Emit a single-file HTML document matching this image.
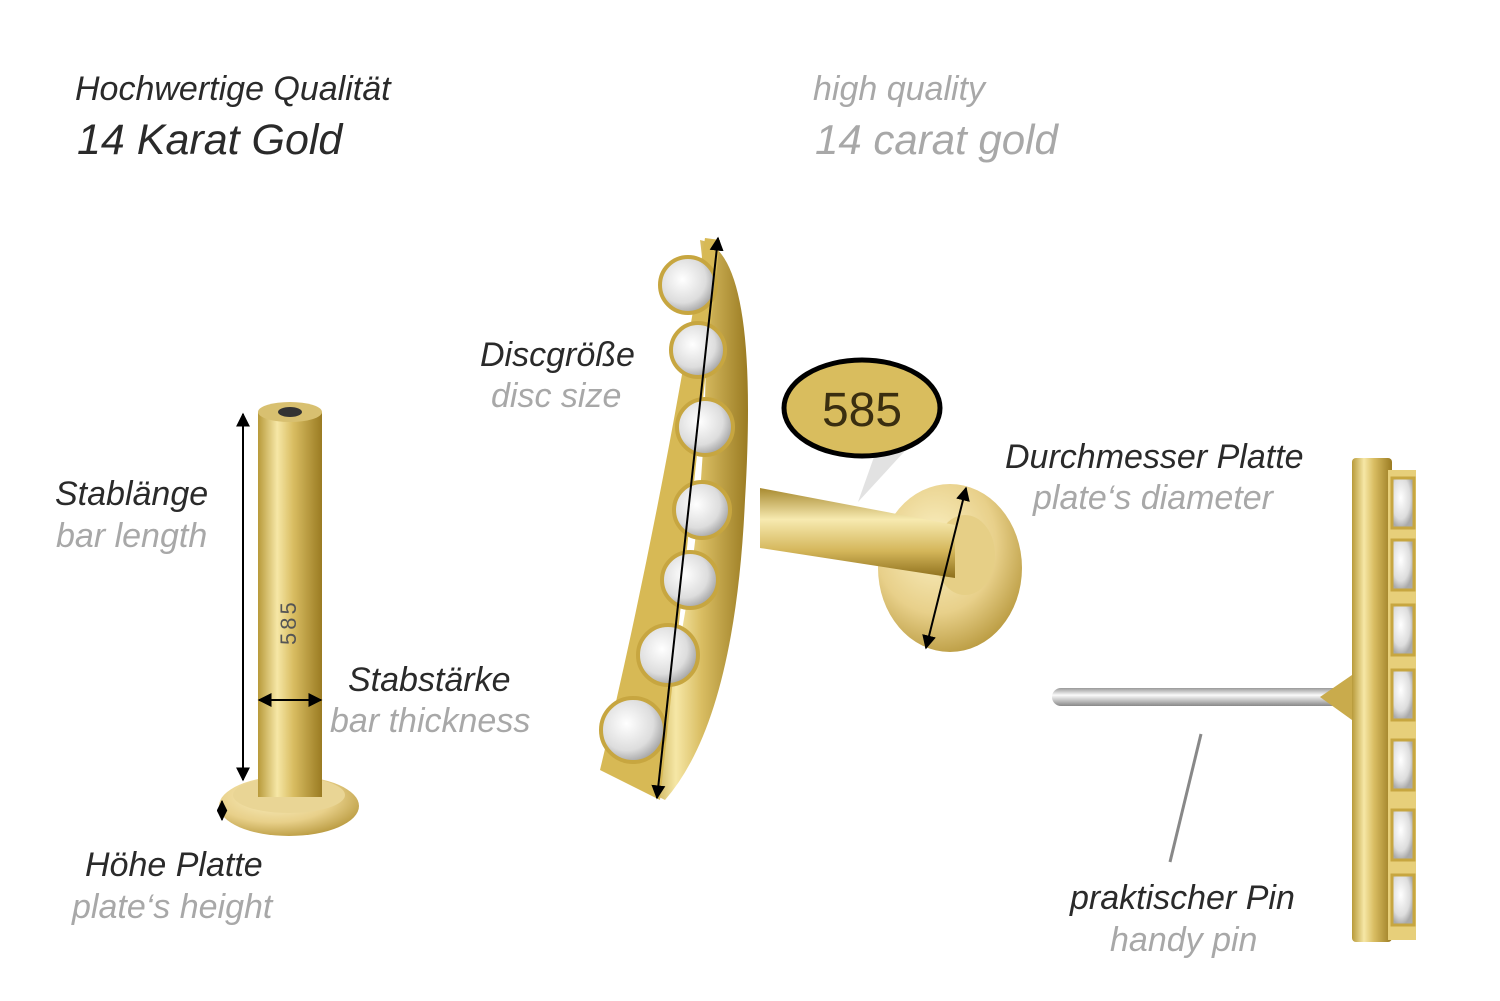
<!DOCTYPE html>
<html><head><meta charset="utf-8"><style>
html,body{margin:0;padding:0;background:#fff;}
#c{position:relative;width:1500px;height:1001px;overflow:hidden;font-family:"Liberation Sans",sans-serif;}
.t{position:absolute;white-space:nowrap;line-height:1;font-style:italic;}
.d{color:#2a2a2a;}.g{color:#a8a8a8;}
svg{position:absolute;left:0;top:0;font-style:normal;}
</style></head><body><div id="c">
<svg width="1500" height="1001" viewBox="0 0 1500 1001">
<defs>
<linearGradient id="gh" x1="0" x2="1" y1="0" y2="0">
<stop offset="0" stop-color="#b89a3a"/><stop offset="0.3" stop-color="#f6e7a6"/><stop offset="0.55" stop-color="#d9bd62"/><stop offset="1" stop-color="#9a7b22"/></linearGradient>
<linearGradient id="gv" x1="0" x2="0" y1="0" y2="1">
<stop offset="0" stop-color="#a88a30"/><stop offset="0.35" stop-color="#f7eab0"/><stop offset="0.7" stop-color="#d4b65a"/><stop offset="1" stop-color="#8d6f1c"/></linearGradient>
<linearGradient id="sv" x1="0" x2="0" y1="0" y2="1">
<stop offset="0" stop-color="#999"/><stop offset="0.4" stop-color="#fafafa"/><stop offset="1" stop-color="#888"/></linearGradient>
<radialGradient id="disc" cx="0.4" cy="0.35" r="0.7"><stop offset="0" stop-color="#fbf1c4"/><stop offset="0.6" stop-color="#e8d08a"/><stop offset="1" stop-color="#b8993e"/></radialGradient>
<radialGradient id="gem" cx="0.4" cy="0.4" r="0.6"><stop offset="0" stop-color="#fff"/><stop offset="0.7" stop-color="#ddd"/><stop offset="1" stop-color="#aaa"/></radialGradient>
<marker id="ah" viewBox="0 0 10 10" refX="9" refY="5" markerWidth="7" markerHeight="7" orient="auto-start-reverse"><path d="M0,0L10,5L0,10z" fill="#000"/></marker>
</defs>
<ellipse cx="289" cy="806" rx="70" ry="30" fill="url(#disc)"/>
<ellipse cx="289" cy="795" rx="56" ry="18" fill="#e9d595"/>
<rect x="258" y="412" width="64" height="385" fill="url(#gh)"/>
<ellipse cx="290" cy="412" rx="32" ry="10" fill="#d8c070"/>
<ellipse cx="290" cy="412" rx="12" ry="5" fill="#333"/>
<text x="0" y="0" transform="translate(296,645) rotate(-90)" font-family="Liberation Sans" font-size="22" fill="#555" letter-spacing="3">585</text>
<line x1="243" y1="414" x2="243" y2="780" stroke="#000" stroke-width="2" marker-start="url(#ah)" marker-end="url(#ah)"/>
<line x1="259" y1="700" x2="321" y2="700" stroke="#000" stroke-width="2" marker-start="url(#ah)" marker-end="url(#ah)"/>
<line x1="222" y1="801" x2="222" y2="820" stroke="#000" stroke-width="1.5" marker-start="url(#ah)" marker-end="url(#ah)"/>
<ellipse cx="950" cy="568" rx="72" ry="84" fill="url(#disc)"/>
<ellipse cx="965" cy="555" rx="30" ry="40" fill="#e6cf86"/>
<polygon points="760,488 955,525 955,578 760,548" fill="url(#gv)"/>
<path d="M700,240 Q760,250 745,500 Q735,720 665,800 L645,790 Q700,600 705,400 Q708,300 700,240z" fill="url(#gh)"/>
<path d="M705,238 L720,240 Q690,520 660,800 L600,770 Q660,520 705,238z" fill="#d7b955"/>
<g fill="url(#gem)" stroke="#c7a640" stroke-width="4">
<circle cx="688" cy="285" r="28"/><circle cx="698" cy="350" r="27"/><circle cx="705" cy="427" r="28"/>
<circle cx="702" cy="510" r="28"/><circle cx="690" cy="580" r="28"/><circle cx="668" cy="655" r="30"/><circle cx="633" cy="730" r="32"/></g>
<line x1="718" y1="238" x2="657" y2="798" stroke="#000" stroke-width="2" marker-start="url(#ah)" marker-end="url(#ah)"/>
<line x1="966" y1="488" x2="926" y2="648" stroke="#000" stroke-width="2" marker-start="url(#ah)" marker-end="url(#ah)"/>
<polygon points="880,440 915,440 858,502" fill="#e2e2e2"/>
<ellipse cx="862" cy="408" rx="78" ry="48" fill="#d9bd5e" stroke="#000" stroke-width="5"/>
<text x="862" y="426" text-anchor="middle" font-family="Liberation Sans" font-size="48" fill="#3a2e10">585</text>
<rect x="1052" y="688" width="290" height="18" rx="9" fill="url(#sv)"/>
<path d="M1320,697 L1352,675 L1352,720z" fill="#c9ab4c"/>
<rect x="1352" y="458" width="40" height="484" rx="4" fill="url(#gh)"/>
<rect x="1388" y="470" width="28" height="470" fill="#e7cf7a"/>
<g fill="url(#gem)" stroke="#c7a640" stroke-width="3">
<rect x="1392" y="478" width="22" height="50"/><rect x="1392" y="540" width="22" height="50"/><rect x="1392" y="605" width="22" height="50"/>
<rect x="1392" y="670" width="22" height="50"/><rect x="1392" y="740" width="22" height="50"/><rect x="1392" y="810" width="22" height="50"/><rect x="1392" y="875" width="22" height="50"/></g>
<line x1="1201" y1="734" x2="1170" y2="862" stroke="#888" stroke-width="3"/>
</svg>
<div class="t d" style="left:75px;top:72px;font-size:34px">Hochwertige Qualität</div>
<div class="t d" style="left:77px;top:119px;font-size:43px">14 Karat Gold</div>
<div class="t g" style="left:813px;top:72px;font-size:34px">high quality</div>
<div class="t g" style="left:815px;top:119px;font-size:42px">14 carat gold</div>
<div class="t d" style="left:480px;top:338px;font-size:34px">Discgröße</div>
<div class="t g" style="left:491px;top:379px;font-size:34px">disc size</div>
<div class="t d" style="left:55px;top:477px;font-size:34px">Stablänge</div>
<div class="t g" style="left:56px;top:519px;font-size:34px">bar length</div>
<div class="t d" style="left:348px;top:663px;font-size:34px">Stabstärke</div>
<div class="t g" style="left:330px;top:704px;font-size:34px">bar thickness</div>
<div class="t d" style="left:85px;top:848px;font-size:34px">Höhe Platte</div>
<div class="t g" style="left:72px;top:890px;font-size:34px">plate‘s height</div>
<div class="t d" style="left:1005px;top:440px;font-size:34px">Durchmesser Platte</div>
<div class="t g" style="left:1033px;top:481px;font-size:34px">plate‘s diameter</div>
<div class="t d" style="left:1070px;top:881px;font-size:34px">praktischer Pin</div>
<div class="t g" style="left:1110px;top:923px;font-size:34px">handy pin</div>
</div></body></html>
